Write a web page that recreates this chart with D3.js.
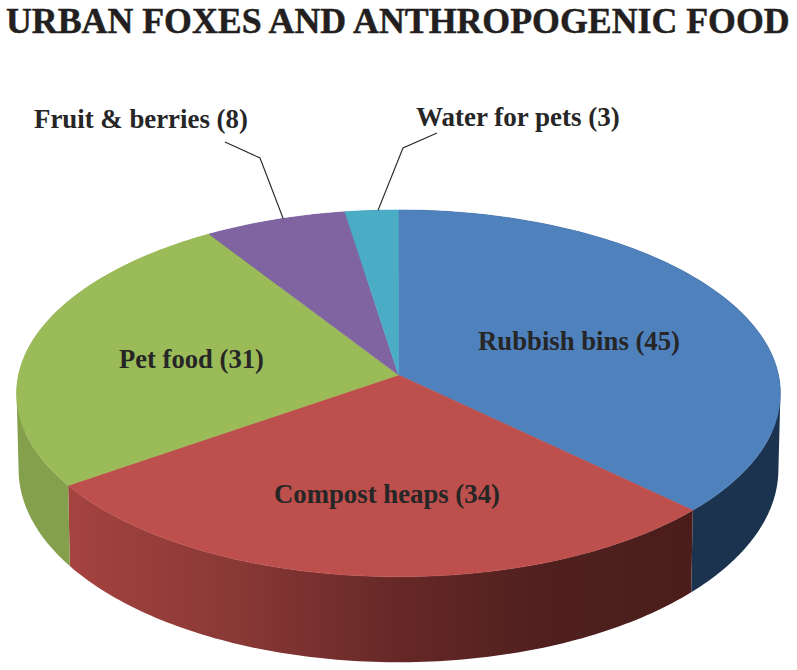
<!DOCTYPE html>
<html>
<head>
<meta charset="utf-8">
<script src="https://cdn.jsdelivr.net/npm/d3@7"></script>
<style>
    html, body { margin: 0; padding: 0; background: #fff; }
    svg { display: block; }
    text { font-family: "Liberation Serif", serif; font-weight: bold; }
</style>
</head>
<body>
<div id="chart"></div>
<script>
// データ
const categories = ["Rubbish bins", "Compost heaps", "Pet food", "Fruit & berries", "Water for pets"];
const values = [45, 34, 31, 8, 3];
const topColors = ["#4f81bd", "#bd4f4c", "#9bbb59", "#8064a2", "#4bacc6"];
const wallColors = ["#1c334f", "url(#compostWall)", "#84a04c", "#604a7b", "#31859c"];

// レイアウト
const width = 797;
const height = 670;
const CENTER_X = 398.5;
const PERSPECTIVE = 0.1;
const TOP_RIM = { y: 375, a: 181.6, b: 380 };
const BOTTOM_RIM = { y: 450, a: 191, b: 378 };
const STEP = Math.PI / 180;

const labels = [
    { x: 478, y: 350, w: 202 },
    { x: 274, y: 503, w: 226 },
    { x: 119, y: 368, w: 145 },
    { x: 34, y: 128, w: 214 },
    { x: 416, y: 126, w: 204 }
];
const leaders = [
    { slice: 3, fraction: 0.56, points: [[225, 142], [260, 158]] },
    { slice: 4, fraction: 0.62, points: [[437, 133], [403, 148]] }
];

// 円盤上の角度を遠近法付きの画面座標へ変換する
function project(angle, rim) {
    const u = Math.sin(angle);
    const v = -Math.cos(angle);
    const d = 1 - PERSPECTIVE * v;
    return [CENTER_X + rim.b * u / d, rim.y + rim.a * v / d];
}

const svg = d3.select("#chart").append("svg")
    .attr("width", width)
    .attr("height", height);

// 左から右へ暗くなる側面の色
svg.append("defs").append("linearGradient")
    .attr("id", "compostWall")
    .attr("gradientUnits", "userSpaceOnUse")
    .attr("x1", 68).attr("x2", 692).attr("y1", 0).attr("y2", 0)
    .selectAll("stop")
    .data([
        [0, "#a5433f"],
        [0.26, "#8a3936"],
        [0.53, "#662827"],
        [0.77, "#4f201e"],
        [1, "#4a1d1b"]
    ])
    .join("stop")
    .attr("offset", d => d[0])
    .attr("stop-color", d => d[1]);

const arcs = d3.pie().sort(null)(values);
const line = d3.line();

// 扇形ごとの角度の列
function arcAngles(arc) {
    const n = Math.ceil((arc.endAngle - arc.startAngle) / STEP);
    return d3.range(n + 1).map(k => arc.startAngle + (arc.endAngle - arc.startAngle) * k / n);
}

// 側面: 細い四角形を向きを揃えて1つのパスにまとめる
function wallPath(arc) {
    const angles = arcAngles(arc);
    return d3.pairs(angles).map(([a0, a1]) => {
        const quad = [
            project(a0, TOP_RIM),
            project(a1, TOP_RIM),
            project(a1, BOTTOM_RIM),
            project(a0, BOTTOM_RIM)
        ];
        if (d3.polygonArea(quad) < 0) quad.reverse();
        return line(quad) + "Z";
    }).join("");
}

svg.append("g").selectAll("path")
    .data(arcs)
    .join("path")
    .attr("d", wallPath)
    .attr("fill", (d, i) => wallColors[i]);

// 上面
svg.append("g").selectAll("path")
    .data(arcs)
    .join("path")
    .attr("d", arc => line([[CENTER_X, TOP_RIM.y], ...arcAngles(arc).map(a => project(a, TOP_RIM))]) + "Z")
    .attr("fill", (d, i) => topColors[i])
    .attr("stroke", (d, i) => topColors[i])
    .attr("stroke-width", 0.5);

// 引き出し線
leaders.forEach(leader => {
    const arc = arcs[leader.slice];
    const angle = arc.startAngle + (arc.endAngle - arc.startAngle) * leader.fraction;
    svg.append("path")
        .attr("d", line([...leader.points, project(angle, TOP_RIM)]))
        .attr("fill", "none")
        .attr("stroke", "#262626")
        .attr("stroke-width", 1.1);
});

// ラベル
svg.append("g").selectAll("text")
    .data(categories)
    .join("text")
    .attr("font-size", 27)
    .attr("fill", "#262626")
    .text((d, i) => `${d} (${values[i]})`)
    .attr("transform", function (d, i) {
        const sx = labels[i].w / this.getComputedTextLength();
        return `translate(${labels[i].x},${labels[i].y}) scale(${sx},1)`;
    });

// タイトル
svg.append("text")
    .attr("font-size", 36)
    .attr("fill", "#231f20")
    .attr("stroke", "#231f20")
    .attr("stroke-width", 0.5)
    .text("URBAN FOXES AND ANTHROPOGENIC FOOD")
    .attr("transform", function () {
        const sx = 784 / this.getComputedTextLength();
        return `translate(6,32.5) scale(${sx},1)`;
    });
</script>
</body>
</html>
